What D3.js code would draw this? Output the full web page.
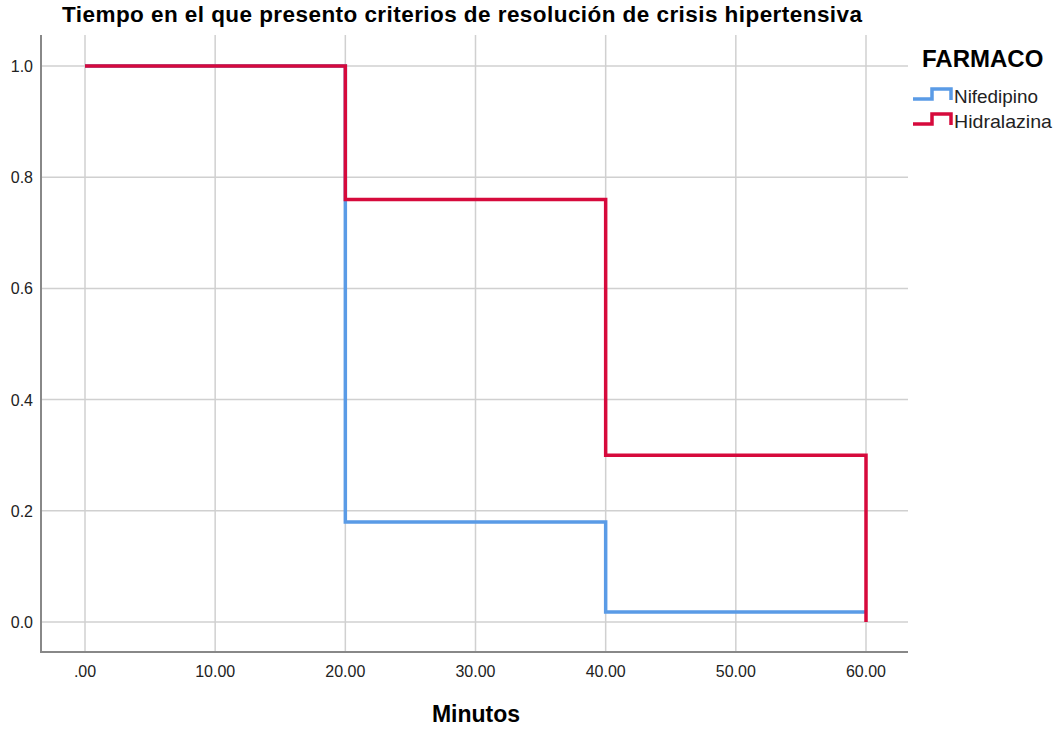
<!DOCTYPE html>
<html><head><meta charset="utf-8">
<script src="https://cdn.jsdelivr.net/npm/d3@7"></script>
<style>body{margin:0;background:#fff;font-family:"Liberation Sans",Arial,sans-serif}</style>
</head><body><svg id="c" width="1056" height="729"></svg>
<script>
const xTicks = [0,10,20,30,40,50,60];
const yTicks = [0,0.2,0.4,0.6,0.8,1.0];
const seriesNames = ["Nifedipino","Hidralazina"];
const seriesColors = ["#5a9be6","#d60a3c"];
const nifTimes = [0,20,20,40,40,60];
const nifValues = [1.0,1.0,0.18,0.18,0.018,0.018];
const hidTimes = [0,20,20,40,40,60,60];
const hidValues = [1.0,1.0,0.76,0.76,0.30,0.30,0.0];

(function(){
const svg = d3.select("#c");
const x = d3.scaleLinear().domain([0,60]).range([85,866]);
const y = d3.scaleLinear().domain([0,1]).range([622,66]);
const pL=41, pR=908, pT=35, pB=652;

svg.append("text").attr("x",62).attr("y",22).attr("font-size",22.5).attr("font-weight","bold").attr("fill","#000")
  .attr("textLength",800).attr("lengthAdjust","spacing")
  .text("Tiempo en el que presento criterios de resolución de crisis hipertensiva");

const g = svg.append("g");
g.selectAll(".gy").data(yTicks).join("line").attr("x1",pL).attr("x2",pR).attr("y1",d=>y(d)).attr("y2",d=>y(d)).attr("stroke","#d0d0d0").attr("stroke-width",1.5);
g.selectAll(".gx").data(xTicks).join("line").attr("y1",pT).attr("y2",pB).attr("x1",d=>x(d)).attr("x2",d=>x(d)).attr("stroke","#d0d0d0").attr("stroke-width",1.5);

svg.append("line").attr("x1",pL).attr("x2",pL).attr("y1",pT).attr("y2",pB+1).attr("stroke","#888").attr("stroke-width",2);
svg.append("line").attr("x1",pL).attr("x2",pR).attr("y1",pB).attr("y2",pB).attr("stroke","#888").attr("stroke-width",2);

svg.selectAll(".yt").data(yTicks).join("text").attr("x",33).attr("y",d=>y(d)+6).attr("text-anchor","end").attr("font-size",16).attr("fill","#222").text(d=>d.toFixed(1));
svg.selectAll(".xt").data(xTicks).join("text").attr("x",d=>x(d)).attr("y",677).attr("text-anchor","middle").attr("font-size",16).attr("fill","#222").text(d=>d===0?".00":d.toFixed(2));

svg.append("text").attr("x",476).attr("y",722).attr("text-anchor","middle").attr("font-size",23).attr("font-weight","bold").text("Minutos");

const line = d3.line().x(d=>x(d[0])).y(d=>y(d[1]));
svg.append("path").datum(nifTimes.map((t,i)=>[t,nifValues[i]])).attr("d",line).attr("fill","none").attr("stroke",seriesColors[0]).attr("stroke-width",3.5);
svg.append("path").datum(hidTimes.map((t,i)=>[t,hidValues[i]])).attr("d",line).attr("fill","none").attr("stroke",seriesColors[1]).attr("stroke-width",3.5);

svg.append("text").attr("x",922).attr("y",67).attr("font-size",24).attr("font-weight","bold").text("FARMACO");
seriesNames.forEach((n,i)=>{
  const base = 103 + i*25;
  svg.append("path").attr("d",`M913,${base-4}H932V${base-14}H951V${base-3}`).attr("fill","none").attr("stroke",seriesColors[i]).attr("stroke-width",3.5);
  svg.append("text").attr("x",954).attr("y",base).attr("font-size",19).attr("fill","#222")
    .attr("textLength", i===0?84:98).attr("lengthAdjust","spacingAndGlyphs").text(n);
});
})();
</script></body></html>
